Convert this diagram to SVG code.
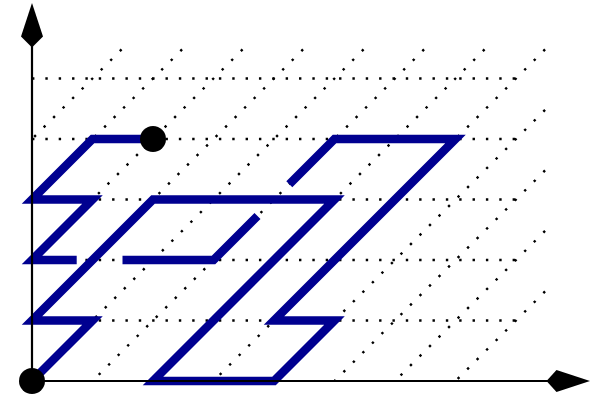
<svg xmlns="http://www.w3.org/2000/svg" width="598" height="397" viewBox="0 0 598 397">
  <style>
    .hgrid { fill: none; stroke: #000; stroke-width: 2.4; stroke-dasharray: 2.4 10.95; }
    .dgrid { fill: none; stroke: #000; stroke-width: 2.4; stroke-dasharray: 2.4 11.06; }
    .knot { fill: none; stroke: #000090; stroke-width: 8.5; stroke-linejoin: miter; stroke-miterlimit: 4; stroke-linecap: butt; }
    .axis { fill: none; stroke: #000; stroke-width: 2.2; }
    .head { fill: #000; stroke: none; }
    .dot { fill: #000; }
  </style>
  <rect width="598" height="397" fill="#fff"/>

  <g id="grid">
    <path class="hgrid" d="M32,320.5H516 M32,260H516 M32,199.5H516 M32,139H516 M32,78.5H516"/>
    <path class="dgrid" d="M121.54,49.46L32,139 M182.04,49.46L32,199.5 M242.54,49.46L32,260 M303.04,49.46L32,320.5 M363.54,49.46L32,381 M424.04,49.46L92.5,381 M484.54,49.46L153,381 M545.04,49.46L213.5,381 M545.04,109.96L274,381 M545.04,170.46L334.5,381 M545.04,230.96L395,381 M545.04,291.46L455.5,381"/>
  </g>

  <g id="connectors">
    <path id="curve-a" class="knot" d="M32,381L92.5,320.5L32,320.5L153,199.5L334.5,199.5L153,381L274,381L334.5,320.5L274,320.5L455.5,139L334.5,139L289.3,184.2"/>
    <path id="curve-b" class="knot" d="M257.5,216L213.5,260L122.5,260"/>
    <path id="curve-c" class="knot" d="M76.7,260L32,260L92.5,199.5L32,199.5L92.5,139L153,139"/>
  </g>

  <g id="axes">
    <path class="axis" d="M32,381V44"/>
    <path class="axis" d="M32,381H550"/>
    <path class="head" d="M32,3L43,36.5L32,47.5L21,36.5Z"/>
    <path class="head" d="M590,381L556.5,370L546.5,381L556.5,392Z"/>
  </g>

  <g id="start-node">
    <circle class="dot" cx="32" cy="381" r="13"/>
  </g>
  <g id="end-node">
    <circle class="dot" cx="153" cy="139" r="13"/>
  </g>
</svg>
